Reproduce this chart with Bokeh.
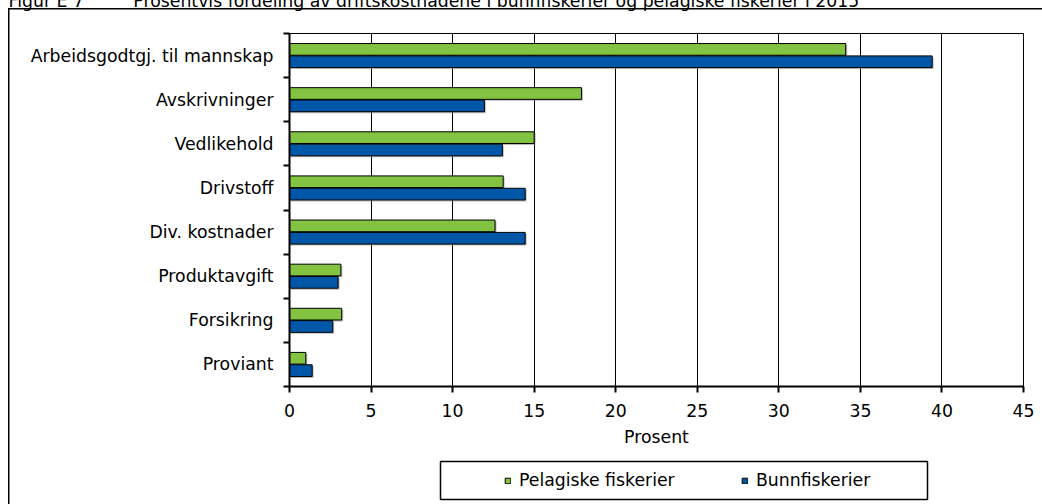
from bokeh.plotting import figure
from bokeh.layouts import column
from bokeh.models import (Range1d, FixedTicker, Legend, LegendItem, ColumnDataSource)
from bokeh.transform import dodge
from bokeh.embed import file_html
from bokeh.resources import INLINE

# ---- data ----
categories = ["Arbeidsgodtgj. til mannskap", "Avskrivninger", "Vedlikehold",
              "Drivstoff", "Div. kostnader", "Produktavgift", "Forsikring", "Proviant"]
pelagiske = [34.1, 17.9, 15.0, 13.1, 12.6, 3.15, 3.2, 1.0]
bunnfiskerier = [39.4, 11.95, 13.05, 14.45, 14.45, 2.98, 2.65, 1.39]
x_ticks = [0, 5, 10, 15, 20, 25, 30, 35, 40, 45]
series_names = ["Pelagiske fiskerier", "Bunnfiskerier"]
title_prefix = "Figur E 7"
title_text = "Prosentvis fordeling av driftskostnadene i bunnfiskerier og pelagiske fiskerier i 2015"
x_label = "Prosent"

GREEN = "#82C341"
BLUE = "#0057A8"
FONT = "DejaVu Sans"
FS = "17.3px"

n = len(categories)
centers = [n - i - 0.5 for i in range(n)]
bounds = list(range(n + 1))
off = 0.14
src = ColumnDataSource(dict(
    cat=categories, center=centers, pel=pelagiske, bunn=bunnfiskerier,
    y_pel=[c + off for c in centers], y_bunn=[c - off for c in centers]))

LINE = "linear-gradient(#000,#000)"

# ---------- main chart (canvas starts 36px above the window: title is cut) ----------
p = figure(width=1042, height=488, output_backend="svg", toolbar_location=None,
           x_range=Range1d(0, 45), y_range=Range1d(0, n),
           min_border_left=289, min_border_right=19, min_border_top=69,
           min_border_bottom=66, frame_align=False)
p.background_fill_color = "white"
p.border_fill_color = None
p.outline_line_color = "black"
p.outline_line_width = 1
p.styles = {"background": f"{LINE} 8px 44px / 1.5px 100% no-repeat, "
                          f"{LINE} 8px 44px / 100% 1.5px no-repeat, #fff"}

p.title.text = title_prefix + "\u00a0" * 9 + title_text
p.title.text_font = FONT
p.title.text_font_size = FS
p.title.text_font_style = "normal"
p.title.text_color = "black"
p.title.align = "left"
p.title.offset = -281
p.title.standoff = 46
p.title.vertical_align = "bottom"

# soft drop shadow (about 1.5 px right / down), then the bars
SX, SY = 0.09, 0.034
for yf, xf in (("y_pel", "pel"), ("y_bunn", "bunn")):
    p.hbar(y=dodge(yf, -SY), right=dodge(xf, SX), left=SX, height=0.265, source=src,
           fill_color="#8c8c8c", fill_alpha=0.6, line_color=None)
p.hbar(y="y_pel", right="pel", left=0, height=0.265, source=src,
       fill_color=GREEN, line_color="black", line_width=1)
p.hbar(y="y_bunn", right="bunn", left=0, height=0.265, source=src,
       fill_color=BLUE, line_color="black", line_width=1)

xa = p.xaxis[0]
xa.ticker = FixedTicker(ticks=x_ticks)
xa.axis_line_width = 2
xa.axis_line_color = "black"
xa.major_tick_in = 0
xa.major_tick_out = 6
xa.major_tick_line_width = 2
xa.minor_tick_line_color = None
xa.major_label_text_font = FONT
xa.major_label_text_font_size = FS
xa.major_label_text_color = "black"
xa.major_label_standoff = 11
xa.axis_label = x_label
xa.axis_label_text_font = FONT
xa.axis_label_text_font_size = FS
xa.axis_label_text_font_style = "normal"
xa.axis_label_text_color = "black"
xa.axis_label_standoff = 7

ya = p.yaxis[0]
ya.ticker = FixedTicker(ticks=centers, minor_ticks=bounds)
ya.major_label_overrides = {c: lab for c, lab in zip(centers, categories)}
ya.axis_line_width = 2
ya.axis_line_color = "black"
ya.major_tick_in = 0
ya.major_tick_out = 0
ya.minor_tick_in = 0
ya.minor_tick_out = 6
ya.minor_tick_line_width = 2
ya.minor_tick_line_color = "black"
ya.major_label_text_font = FONT
ya.major_label_text_font_size = FS
ya.major_label_text_color = "black"
ya.major_label_standoff = 10

p.xgrid.ticker = FixedTicker(ticks=x_ticks)
p.xgrid.grid_line_color = "black"
p.xgrid.grid_line_width = 1
p.ygrid.grid_line_color = None

# ---------- legend strip: its frame is the legend box ----------
q = figure(width=1042, height=52, output_backend="svg", toolbar_location=None,
           x_range=Range1d(100, 200), y_range=Range1d(0, n),
           x_axis_type=None, y_axis_type=None,
           min_border_left=440, min_border_right=115, min_border_top=9,
           min_border_bottom=5, frame_align=False)
q.grid.visible = False
q.background_fill_color = "white"
q.border_fill_color = None
q.outline_line_color = "black"
q.outline_line_width = 1.5
q.styles = {"background": f"{LINE} 8px 0px / 1.5px 100% no-repeat, #fff"}
g1 = q.hbar(y="y_pel", right="pel", left=0, height=0.265, source=src,
            fill_color=GREEN, line_color="black", line_width=1)
g2 = q.hbar(y="y_bunn", right="bunn", left=0, height=0.265, source=src,
            fill_color=BLUE, line_color="black", line_width=1)
legend = Legend(items=[LegendItem(label=series_names[0], renderers=[g1]),
                       LegendItem(label=series_names[1], renderers=[g2])],
                orientation="horizontal", location=(64, 9),
                padding=0, margin=0, spacing=62, glyph_width=7, glyph_height=7,
                label_standoff=8, label_width=160, label_height=20,
                label_text_font=FONT, label_text_font_size=FS,
                label_text_color="black",
                border_line_color=None, background_fill_alpha=0)
q.add_layout(legend)

layout = column(p, q, spacing=0, margin=(-36, 0, 0, 0))
open("out.html", "w").write(file_html(layout, INLINE))
